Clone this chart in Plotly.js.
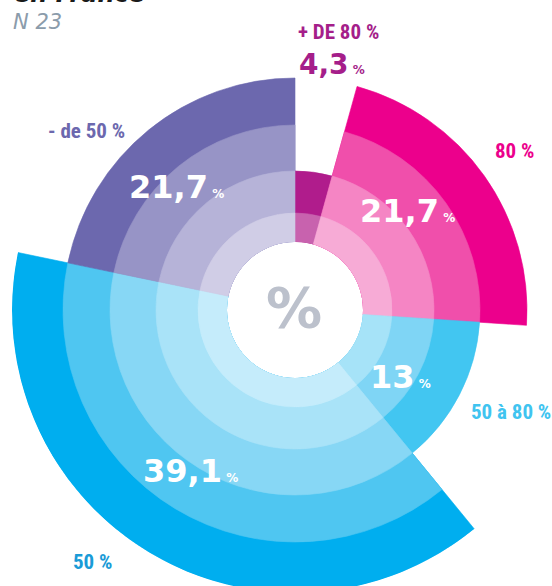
<!DOCTYPE html>
<html><head><meta charset="utf-8">
<script src="https://cdn.plot.ly/plotly-3.0.1.min.js"></script>
<style>html,body{margin:0;padding:0;overflow:hidden;background:#fff}#chart{width:600px;height:620px}</style>
</head><body><div id="chart"></div>
<script>
// ---- data ----
const categories = ['+ DE 80 %', '80 %', '50 à 80 %', '50 %', '- de 50 %'];
const shares = [4.3, 21.7, 13, 39.1, 21.7];
const shareLabels = ['4,3', '21,7', '13', '39,1', '21,7'];
const ringLevels = [2, 4, 3, 5, 4];
const ringRadius = [29, 71, 117, 164, 215];
const palettes = [
  ['#c862ae', '#b01c8c'],
  ['#f7abd6', '#f585c4', '#f04fab', '#ec008c'],
  ['#a6e3f8', '#7fd5f5', '#42c6f1'],
  ['#c5ecfb', '#a9e3f8', '#87d7f5', '#4fc6f1', '#00aeef'],
  ['#d0cde6', '#b6b3d8', '#9794c6', '#6c68ae']
];
const labelColors = ['#a51e8a', '#ec008c', '#40c4f0', '#1a9bd7', '#6c68ae'];

// ---- geometry ----
const W = 600, H = 620;
const cx = 295, cy = 310, R = 283, holeR = 68;
const total = shares.reduce((a, b) => a + b, 0);
const scale = 360 / total;
let cum = 0;
const thetas = [], widths = [];
shares.forEach(v => { thetas.push((cum + v / 2) * scale); widths.push(v * scale); cum += v; });

const traces = [];
for (let k = ringRadius.length; k >= 1; k--) {
  const th = [], r = [], w = [], c = [];
  categories.forEach((cat, i) => {
    if (ringLevels[i] >= k) {
      th.push(thetas[i]); r.push(ringRadius[k - 1]); w.push(widths[i]); c.push(palettes[i][k - 1]);
    }
  });
  traces.push({
    type: 'barpolar', theta: th, r: r, width: w,
    marker: { color: c, line: { color: c, width: 0.6 } },
    hoverinfo: 'skip', showlegend: false
  });
}

const px = x => x / W;
const py = y => 1 - y / H;
const narrow = 'Liberation Sans Narrow, Roboto Condensed, DejaVu Sans Condensed, sans-serif';
const verd = 'DejaVu Sans, Verdana, sans-serif';

const ann = [];
function A(x, y, text, font, xanchor, yanchor) {
  ann.push({ xref: 'paper', yref: 'paper', x: px(x), y: py(y), text: text, showarrow: false,
    xanchor: xanchor || 'center', yanchor: yanchor || 'middle', font: font });
}
// titles
A(12, 10, '<b><i>en France</i></b>', { family: verd, size: 24, color: '#1a1a1a' }, 'left', 'bottom');
A(11, 22, '<i>N 23</i>', { family: verd, size: 21, color: '#8b9cab' }, 'left', 'middle');
// category labels
const catPos = [[339, 32], [514, 151], [511, 412], [92, 562], [86, 131]];
categories.forEach((c, i) => A(catPos[i][0], catPos[i][1], '<b>' + c + '</b>',
  { family: narrow, size: 21, color: labelColors[i] }));
// value labels
const valPos = [[332, 64], [407, 211], [400, 377], [190, 471], [176, 187]];
const valColors = [labelColors[0], '#ffffff', '#ffffff', '#ffffff', '#ffffff'];
const valSizes = [28, 32, 32, 32, 32];
shareLabels.forEach((t, i) => A(valPos[i][0], valPos[i][1],
  '<b>' + t + '<span style="font-size:12px"> %</span></b>',
  { family: verd, size: valSizes[i], color: valColors[i] }));
// centre
A(294, 307, '<b>%</b>', { family: verd, size: 56, color: '#bcc1cc' });

const layout = {
  width: W, height: H,
  margin: { l: 0, r: 0, t: 0, b: 0 },
  paper_bgcolor: '#fff',
  showlegend: false,
  polar: {
    domain: { x: [px(cx - R), px(cx + R)], y: [py(cy + R), py(cy - R)] },
    hole: holeR / R,
    barmode: 'overlay',
    bgcolor: 'rgba(0,0,0,0)',
    radialaxis: { visible: false, range: [0, ringRadius[ringRadius.length - 1]] },
    angularaxis: { visible: false, rotation: 90, direction: 'clockwise', showgrid: false }
  },
  annotations: ann
};
Plotly.newPlot('chart', traces, layout, { staticPlot: true, displayModeBar: false });
</script></body></html>
